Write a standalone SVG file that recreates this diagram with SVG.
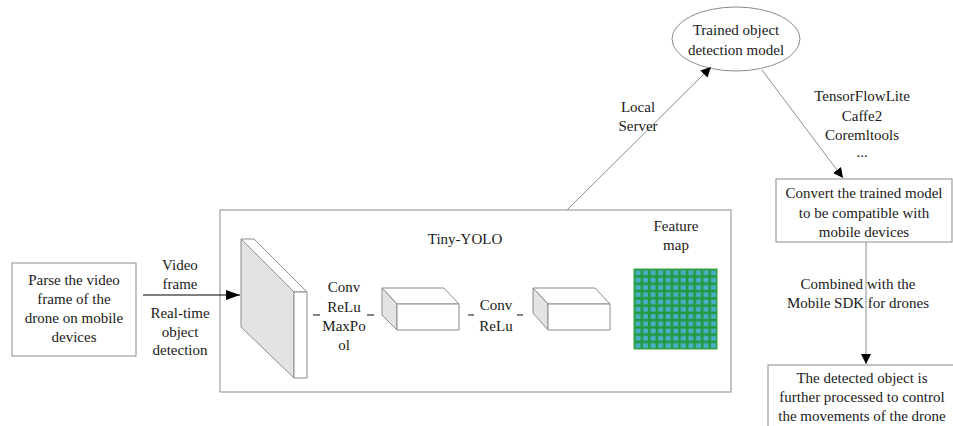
<svg xmlns="http://www.w3.org/2000/svg" width="953" height="426" viewBox="0 0 953 426">
  <defs>
    <style>
      .box { fill: #ffffff; stroke: #8c8c8c; stroke-width: 1; }
      .face { fill: #ffffff; stroke: #8c8c8c; stroke-width: 1; stroke-linejoin: round; }
      .shade { fill: #e3e3e3; stroke: #8c8c8c; stroke-width: 1; stroke-linejoin: round; }
      .edge { fill: none; stroke: #8c8c8c; stroke-width: 1; }
      .dash { fill: none; stroke: #333333; stroke-width: 1.2; }
      text { font-family: 'Liberation Serif', 'DejaVu Serif', serif; font-size: 15px; fill: #1a1a1a; text-anchor: middle; }
      .cell { fill: #4aaec8; }
    </style>
    <marker id="arrow" viewBox="0 0 10 10" refX="10" refY="5" markerWidth="10" markerHeight="10" markerUnits="userSpaceOnUse" orient="auto">
      <path d="M0,0 L10,5 L0,10 z" fill="#000000"/>
    </marker>
    <marker id="arrowBig" viewBox="0 0 14 10" refX="14" refY="5" markerWidth="14" markerHeight="10" markerUnits="userSpaceOnUse" orient="auto">
      <path d="M0,0 L14,5 L0,10 z" fill="#000000"/>
    </marker>
    <pattern id="grid" x="634" y="269" width="7.545" height="7.27" patternUnits="userSpaceOnUse">
      <rect x="0" y="0" width="7.545" height="7.27" fill="#1f9a3c"/>
      <rect x="1.5" y="1.5" width="5" height="4.7" class="cell"/>
    </pattern>
  </defs>

  <g font-family="Liberation Serif, serif">
  <!-- input node -->
  <g id="parse-frame">
    <rect class="box" x="12" y="263" width="124" height="93"/>
    <text x="74" y="285">Parse the video</text>
    <text x="74" y="304">frame of the</text>
    <text x="74" y="323">drone on mobile</text>
    <text x="74" y="342">devices</text>
  </g>

  <!-- network block -->
  <g id="tiny-yolo">
    <rect class="box" x="220" y="210" width="511" height="182"/>
    <text x="465" y="244">Tiny-YOLO</text>

    <!-- input slab -->
    <g id="input-slab">
      <polygon class="shade" points="241,239 294,292 294,378 241,327"/>
      <polygon class="face" points="241,239 254,239 307,292 294,292"/>
      <rect class="face" x="294" y="292" width="13" height="86"/>
    </g>

    <line class="dash" x1="313" y1="315" x2="320" y2="315"/>
    <text x="344" y="292">Conv</text>
    <text x="344" y="312">ReLu</text>
    <text x="344" y="331">MaxPo</text>
    <text x="344" y="350">ol</text>
    <line class="dash" x1="367" y1="315" x2="374" y2="315"/>

    <!-- first feature volume -->
    <g id="volume-1">
      <polygon class="face" points="382,288 444,288 459,304 397,304"/>
      <polygon class="shade" points="382,288 397,304 397,330 382,315"/>
      <rect class="face" x="397" y="304" width="62" height="26"/>
    </g>

    <line class="dash" x1="468" y1="315" x2="474" y2="315"/>
    <text x="496" y="310">Conv</text>
    <text x="496" y="331">ReLu</text>
    <line class="dash" x1="517" y1="315" x2="523" y2="315"/>

    <!-- second feature volume -->
    <g id="volume-2">
      <polygon class="face" points="533,288 595,288 610,304 548,304"/>
      <polygon class="shade" points="533,288 548,304 548,330 533,313"/>
      <rect class="face" x="548" y="304" width="62" height="26"/>
    </g>

    <!-- output feature map -->
    <g id="feature-map">
      <text x="676" y="231">Feature</text>
      <text x="676" y="250">map</text>
      <rect x="634" y="269" width="83" height="80" fill="url(#grid)"/>
      <rect x="634" y="269" width="83" height="80" fill="none" stroke="#3aa845" stroke-width="1"/>
    </g>
  </g>

  <g id="trained-model">
    <ellipse class="box" cx="736" cy="39" rx="64" ry="32"/>
    <text x="736" y="35">Trained object</text>
    <text x="736" y="55">detection model</text>
  </g>

  <g id="convert-model">
    <rect class="box" x="776" y="179" width="176" height="63"/>
    <text x="864" y="198">Convert the trained model</text>
    <text x="864" y="218">to be compatible with</text>
    <text x="864" y="237">mobile devices</text>
  </g>

  <g id="control-drone">
    <rect class="box" x="768" y="365" width="190" height="70"/>
    <text x="862" y="383">The detected object is</text>
    <text x="862" y="402">further processed to control</text>
    <text x="862" y="421">the movements of the drone</text>
  </g>

  <!-- connectors -->
  <g id="connectors">
    <line x1="143" y1="295" x2="240" y2="295" stroke="#000000" stroke-width="1" marker-end="url(#arrowBig)"/>
    <line class="edge" x1="567" y1="210" x2="711" y2="67" marker-end="url(#arrow)"/>
    <line class="edge" x1="762" y1="70" x2="843" y2="178" marker-end="url(#arrow)"/>
    <line class="edge" x1="866" y1="242" x2="866" y2="364" marker-end="url(#arrow)"/>
  </g>

  <!-- edge labels -->
  <g id="labels">
    <text x="180" y="270">Video</text>
    <text x="180" y="289">frame</text>
    <text x="180" y="318">Real-time</text>
    <text x="180" y="337">object</text>
    <text x="180" y="355">detection</text>
    <text x="638" y="112">Local</text>
    <text x="638" y="131">Server</text>
    <text x="862" y="101">TensorFlowLite</text>
    <text x="862" y="121">Caffe2</text>
    <text x="862" y="140">Coremltools</text>
    <text x="862" y="157">...</text>
    <text x="858" y="289">Combined with the</text>
    <text x="858" y="308">Mobile SDK for drones</text>
  </g>
  </g>
</svg>
